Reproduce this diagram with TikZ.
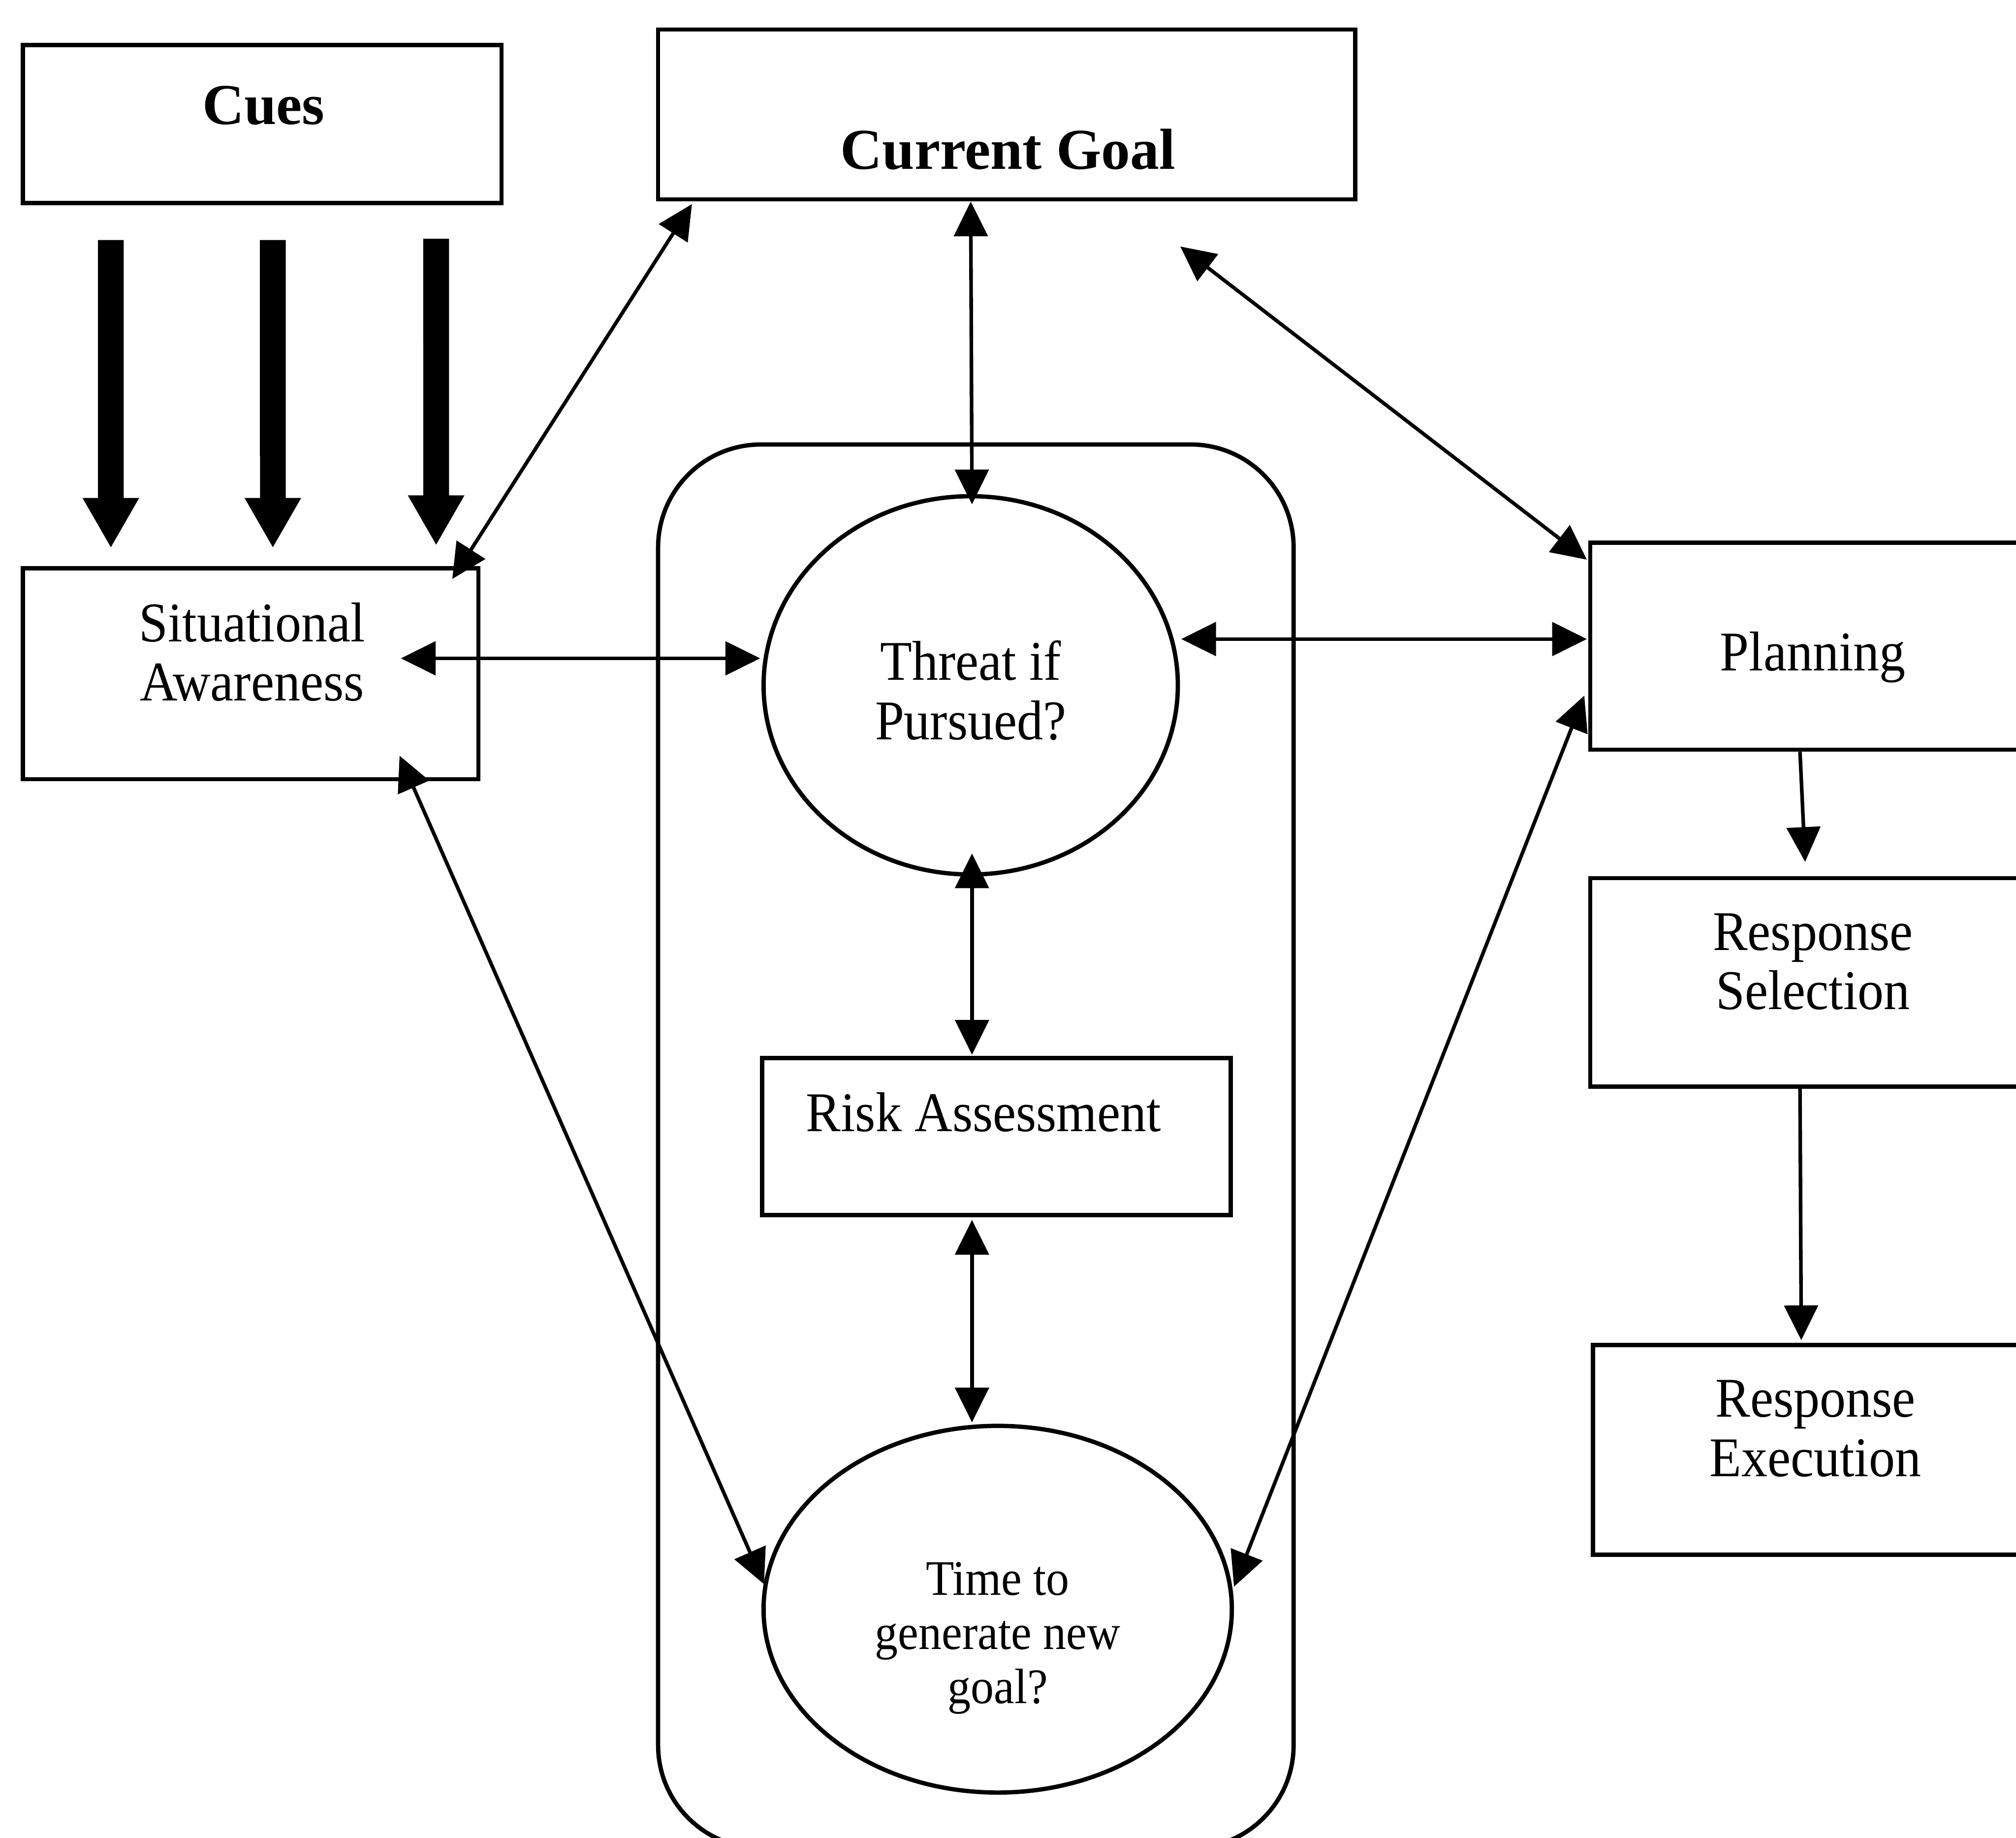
\documentclass[tikz,border=0pt]{standalone}
\usepackage{fontspec}
\setmainfont{Liberation Serif}
\newfontfamily\tallserif[FakeStretch=0.93]{Liberation Serif}
\usetikzlibrary{arrows.meta,shapes.geometric}

\tikzset{
  shape line/.style={draw, line width=0.95pt},
  box/.style={shape line, rectangle, inner sep=0pt},
  oval/.style={shape line, ellipse, inner sep=0pt},
  loopframe/.style={shape line, rectangle, rounded corners=0.8cm, inner sep=0pt},
  txt/.style={font=\tallserif\fontsize{12.4}{13.1}\selectfont, align=center, inner sep=0pt},
  smalltxt/.style={font=\tallserif\fontsize{11}{12}\selectfont, align=center, inner sep=0pt},
  boldtxt/.style={font=\fontsize{12.8}{14}\selectfont\bfseries, inner sep=0pt},
  link/.style={line width=0.8pt, {Triangle[length=0.27cm,width=0.26cm]}-{Triangle[length=0.27cm,width=0.26cm]}},
  flow/.style={line width=0.8pt, -{Triangle[length=0.27cm,width=0.26cm]}},
  cue arrow/.style={line width=0.2cm, -{Triangle[length=0.39cm,width=0.41cm]}}
}

\begin{document}
\begin{tikzpicture}[x=0.01cm,y=-0.01cm]
\useasboundingbox (0,0) rectangle (1568,1429.2);
\clip (0,0) rectangle (1568,1429.2);

% boxes
\node[box, minimum width=3.72cm, minimum height=1.23cm] (cues) at (204,96.5) {};
\node[box, minimum width=5.42cm, minimum height=1.32cm] (goal) at (783,89) {};
\node[box, minimum width=3.54cm, minimum height=1.64cm] (sa) at (195,524) {};
\node[box, minimum width=3.63cm, minimum height=1.61cm] (plan) at (1418.5,502.5) {};
\node[box, minimum width=3.63cm, minimum height=1.62cm] (rsel) at (1418.5,764) {};
\node[box, minimum width=3.61cm, minimum height=1.63cm] (rexe) at (1419.5,1127.5) {};

% goal evaluation loop
\node[loopframe, minimum width=4.94cm, minimum height=10.91cm] (loop) at (759,891.5) {};
\node[oval, minimum width=3.22cm, minimum height=2.94cm] (threat) at (755,533) {};
\node[box, minimum width=3.64cm, minimum height=1.22cm] (risk) at (775,884) {};
\node[oval, minimum width=3.64cm, minimum height=2.85cm] (time) at (776,1251.5) {};

% labels
\node[boldtxt] (cuestxt) at (205,82) {Cues};
\node[boldtxt] (goaltxt) at (784,116) {Current Goal};
\node[txt] (satxt) at (196,507) {Situational\\Awareness};
\node[txt] (threattxt) at (755,537) {Threat if\\Pursued?};
\node[txt] (risktxt) at (765,865) {Risk Assessment};
\node[smalltxt] (timetxt) at (776,1274) {Time to\\generate new\\goal?};
\node[txt] (plantxt) at (1410,511) {Planning};
\node[txt] (rseltxt) at (1410,748) {Response\\Selection};
\node[txt] (rexetxt) at (1412,1111) {Response\\Execution};

% cues feeding situational awareness
\draw[cue arrow] ([shift={(70,27)}]cues.south west) -- ([shift={(70,-14)}]sa.north west);
\draw[cue arrow] ([shift={(196,27)}]cues.south west) -- ([shift={(196,-14)}]sa.north west);
\draw[cue arrow] ([shift={(323,26)}]cues.south west) -- ([shift={(323,-16)}]sa.north west);

% two-way links
\coordinate (goalend) at ([shift={(135,35)}]goal.south);
\draw[link] ([shift={(-22,10)}]sa.north east) -- ([shift={(28,2)}]goal.south west);
\draw[link] ([shift={(-28,0)}]goal.south) -- ([shift={(1,8)}]threat.north);
\draw[link] (goalend) -- ([shift={(-1,15)}]plan.north west);
\draw[link] ([shift={(-62,-12)}]sa.east) -- ([shift={(-1,-21)}]threat.west);
\draw[link] ([shift={(1,-36)}]threat.east) -- ([shift={(-1,-5.5)}]plan.west);
\draw[link] ([shift={(-63,-20)}]sa.south east) -- ([shift={(2,-19.5)}]time.west);
\draw[link] ([shift={(-3,38.5)}]plan.west) -- ([shift={(0,-17.5)}]time.east);
\draw[link] ([shift={(1,-18)}]threat.south) -- ([shift={(-19,-1)}]risk.north);
\draw[link] ([shift={(-19,2)}]risk.south) -- ([shift={(-20,-1)}]time.north);

% response chain
\draw[flow] ([shift={(-18.5,0)}]plan.south) -- ([shift={(-14.5,-11)}]rsel.north);
\draw[flow] ([shift={(-18.5,0)}]rsel.south) -- ([shift={(-18.5,-2)}]rexe.north);
\end{tikzpicture}
\end{document}
